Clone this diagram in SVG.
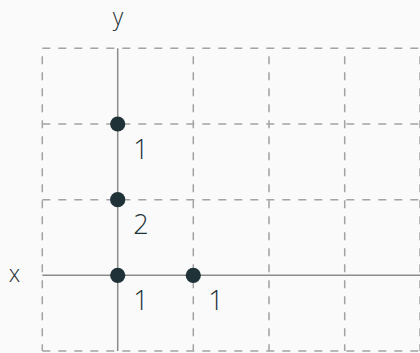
<svg xmlns="http://www.w3.org/2000/svg" width="420" height="353" viewBox="0 0 420 353">
<style>
.grid{stroke:#a3a3a3;stroke-width:1.5;stroke-dasharray:8 8;fill:none}
.gv{stroke-dashoffset:8}
.axis{stroke:#8c8c8c;stroke-width:1.5;fill:none}
.dot{fill:#1f3237}
.lbl{font-family:"Open Sans","Liberation Sans",sans-serif;font-weight:300;fill:#1f3237;text-anchor:middle}
.num{font-size:27px}
.ax{font-size:23px}
</style>
<rect width="420" height="353" fill="#fafafa"/>
<g id="grid">
<line class="grid" x1="42.3" y1="48.3" x2="420" y2="48.3"/>
<line class="grid" x1="42.3" y1="124" x2="420" y2="124"/>
<line class="grid" x1="42.3" y1="199.7" x2="420" y2="199.7"/>
<line class="grid" x1="42.3" y1="351" x2="420" y2="351"/>
<line class="grid gv" x1="42.3" y1="48.3" x2="42.3" y2="351"/>
<line class="grid gv" x1="193.3" y1="48.3" x2="193.3" y2="351"/>
<line class="grid gv" x1="269" y1="48.3" x2="269" y2="351"/>
<line class="grid gv" x1="344.7" y1="48.3" x2="344.7" y2="351"/>
<line class="grid gv" x1="420" y1="48.3" x2="420" y2="351"/>
</g>
<g id="connectors">
<line class="axis" x1="117.7" y1="48.3" x2="117.7" y2="351"/>
<line class="axis" x1="42.3" y1="275.3" x2="420" y2="275.3"/>
</g>
<g id="axis-labels">
<text class="lbl ax" x="118" y="24.5">y</text>
<text class="lbl ax" x="14.5" y="281.7">x</text>
</g>
<g id="p1"><circle class="dot" cx="117.7" cy="124" r="7.6"/><text class="lbl num" x="141" y="159.3">1</text></g>
<g id="p2"><circle class="dot" cx="117.7" cy="199.7" r="7.6"/><text class="lbl num" x="141" y="234.3">2</text></g>
<g id="p3"><circle class="dot" cx="117.7" cy="275.3" r="7.6"/><text class="lbl num" x="141" y="310">1</text></g>
<g id="p4"><circle class="dot" cx="193.3" cy="275.3" r="7.6"/><text class="lbl num" x="216" y="310">1</text></g>
</svg>
